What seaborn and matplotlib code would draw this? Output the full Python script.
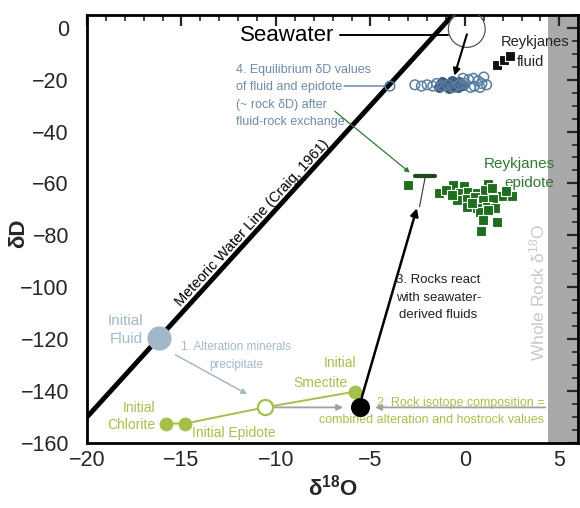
import matplotlib
matplotlib.use("Agg")
import matplotlib.pyplot as plt
from matplotlib.ticker import MultipleLocator
import numpy as np
import pandas as pd
import seaborn as sns

# ---------------- data ----------------
mwl_slope, mwl_intercept = 8, 10          # Craig (1961): dD = 8*d18O + 10
mwl_x_range = [-20.0, -0.625]

seawater_d18o = [0.1]
seawater_dD = [-0.5]

fluid_d18o = [-3.97, -2.65, -2.3, -2.0, -1.7, -1.5, -1.2, -0.9, -0.6, -0.3, 0.0,
              0.2, 0.45, 0.7, 0.9, 1.15, 0.5, 0.3, 0.8, -0.1, 1.0]
fluid_dD = [-22.5, -22.0, -22.5, -22.0, -22.5, -21.5, -22.5, -22.0, -23.0, -22.0, -21.5,
            -20.0, -19.5, -20.5, -21.5, -22.0, -22.5, -23.0, -23.0, -19.5, -19.0]
fluid_dense_d18o = [-1.35, -1.1, -0.85, -0.6, -0.35, -0.1, -1.2, -0.7, -0.3]
fluid_dense_dD = [-22.8, -22.0, -23.2, -21.8, -23.0, -22.2, -20.8, -20.5, -20.8]

rfluid_d18o = [1.7, 2.05, 2.4]
rfluid_dD = [-14.5, -12.6, -10.8]

epi_d18o = [-3.0, -0.65, -0.05, 1.20, -1.36, -1.00, -0.26, 0.18, 0.62, 1.06, 1.41,
            1.94, 2.47, -0.44, 0.09, 0.53, 0.97, 1.50, 0.09, 0.62, 1.15, 1.59,
            0.79, 1.23, 0.94, 1.68, 0.83, 2.2, -0.7, 0.35]
epi_dD = [-60.6, -60.6, -61.0, -60.2, -63.5, -62.5, -63.6, -63.2, -63.8, -62.5, -61.9,
          -64.9, -64.9, -66.4, -66.1, -65.4, -66.4, -66.1, -69.0, -69.6, -69.0, -69.6,
          -70.9, -70.3, -74.1, -74.8, -78.3, -63.0, -64.5, -67.5]

initial_fluid_d18o = [-16.2]
initial_fluid_dD = [-119.6]

alt_path_d18o = [-15.8, -14.8, -10.6, -5.8]     # chlorite, epidote, mix, smectite
alt_path_dD = [-152.5, -152.5, -146.3, -140.2]
mix_d18o = [-10.6]
mix_dD = [-146.3]
rock_d18o = [-5.55]
rock_dD = [-146.3]

eq_bar_d18o = [-2.65, -1.6]
eq_bar_dD = [-57.0, -57.0]

whole_rock_band = (4.4, 6.0)

# ---------------- style ----------------
sns.set_style("white")
plt.rcParams["font.family"] = ["Liberation Sans", "DejaVu Sans"]
plt.rcParams["mathtext.fontset"] = "custom"
plt.rcParams["mathtext.rm"] = "Liberation Sans"
plt.rcParams["mathtext.it"] = "Liberation Sans:italic"
plt.rcParams["mathtext.bf"] = "Liberation Sans:bold"

GREEN = "#a3c14a"
LBLUE = "#a3b8c8"
BLUE = "#6d8ba6"
DKGREEN = "#2f7a2f"
GRAY = "#a0a0a0"

fig = plt.figure(figsize=(5.8, 5.08), dpi=100)
ax = fig.add_axes([0.15, 0.128, 0.847, 0.843])

ax.axvspan(*whole_rock_band, color="#a9a9a9", zorder=0, lw=0)

# Meteoric water line
mx = np.array(mwl_x_range)
sns.lineplot(x=mx, y=mwl_slope * mx + mwl_intercept, ax=ax, color="black", lw=3.5, zorder=3)

# seawater
ax.scatter(seawater_d18o, seawater_dD, s=700, facecolor="none", edgecolor="#555555",
           lw=0.9, zorder=4)

# fluid circles
sns.scatterplot(x=fluid_dense_d18o, y=fluid_dense_dD, ax=ax, s=48, color="#3e5f82",
                edgecolor="#3e5f82", linewidth=1, zorder=4)
sns.scatterplot(x=fluid_d18o, y=fluid_dD, ax=ax, s=48, facecolor="none",
                edgecolor="#5a7ea2", linewidth=1.1, zorder=5)

# Reykjanes fluid
sns.scatterplot(x=rfluid_d18o, y=rfluid_dD, ax=ax, marker="s", s=42, color="#111111",
                edgecolor="white", linewidth=0.8, zorder=5)

# Reykjanes epidote
sns.scatterplot(x=epi_d18o, y=epi_dD, ax=ax, marker="s", s=50, color="#1f6e1f",
                edgecolor="white", linewidth=0.8, zorder=5)

# equilibrium bar
sns.lineplot(x=eq_bar_d18o, y=eq_bar_dD, ax=ax, color="#1a4a1a", lw=3, zorder=5)

# alteration path
sns.lineplot(x=alt_path_d18o, y=alt_path_dD, ax=ax, color=GREEN, lw=1.4, zorder=3, sort=False)
sns.scatterplot(x=alt_path_d18o[:2] + alt_path_d18o[3:], y=alt_path_dD[:2] + alt_path_dD[3:],
                ax=ax, s=85, color=GREEN, edgecolor=GREEN, zorder=6)
sns.scatterplot(x=mix_d18o, y=mix_dD, ax=ax, s=120, facecolor="white", edgecolor=GREEN,
                linewidth=1.6, zorder=6)
sns.scatterplot(x=initial_fluid_d18o, y=initial_fluid_dD, ax=ax, s=260, color="#a2b7c8",
                edgecolor="#a2b7c8", zorder=6)
sns.scatterplot(x=rock_d18o, y=rock_dD, ax=ax, s=160, color="black", edgecolor="black", zorder=7)

# ---------------- annotations ----------------
ax.text(-6.9, -3, "Seawater", fontsize=16, ha="right", va="center", color="black")
ax.plot([-6.6, -0.9], [-3, -3], color="black", lw=1.4, zorder=4)
ax.annotate("", xy=(-0.6, -19.5), xytext=(0.15, -1.5),
            arrowprops=dict(arrowstyle="-|>", color="black", lw=1.5, mutation_scale=10), zorder=6)

ax.text(1.9, -5.5, "Reykjanes", fontsize=10.5, ha="left", va="center", color="#222222")
ax.text(2.75, -13.2, "fluid", fontsize=10.5, ha="left", va="center", color="#222222")

ax.text(-12.1, -14.0, "4. Equilibrium δD values\nof fluid and epidote\n(~ rock δD) after\nfluid-rock exchange",
        fontsize=9, ha="left", va="top", color=BLUE, linespacing=1.6)
ax.plot([-6.4, -4.25], [-22.5, -22.5], color=BLUE, lw=1.1, zorder=4)
ax.annotate("", xy=(-2.8, -56.5), xytext=(-7.0, -31.5),
            arrowprops=dict(arrowstyle="-|>", color=DKGREEN, lw=0.9, mutation_scale=7), zorder=6)

ax.text(4.75, -56, "Reykjanes\nepidote", fontsize=11, ha="right", va="center",
        color=DKGREEN, multialignment="right", linespacing=1.45)

ax.text(-1.4, -104, "3. Rocks react\nwith seawater-\nderived fluids", fontsize=9.5,
        ha="center", va="center", color="#222222", linespacing=1.65)
ax.annotate("", xy=(-2.5, -68.5), xytext=(-5.5, -143.5),
            arrowprops=dict(arrowstyle="-|>", color="black", lw=1.8, mutation_scale=11), zorder=6)
ax.plot([-2.4, -2.1], [-69, -57.5], color="#333333", lw=0.8, zorder=5)

ax.text(-11.27, -75.3, "Meteoric Water Line (Craig, 1961)", fontsize=10.5, rotation=47.5,
        rotation_mode="anchor", ha="center", va="center", color="black")

ax.text(3.86, -102, "Whole Rock δ$^{18}$O", fontsize=12.5, rotation=90, ha="center",
        va="center", color="#c8c8c8")

ax.text(-17.0, -116.5, "Initial\nFluid", fontsize=11, ha="right", va="center",
        color=LBLUE, multialignment="center", linespacing=1.4)
ax.text(-12.1, -126.5, "1. Alteration minerals\nprecipitate", fontsize=8.5, ha="center",
        va="center", color=LBLUE, linespacing=1.6)
ax.annotate("", xy=(-11.4, -141.7), xytext=(-15.45, -125.5),
            arrowprops=dict(arrowstyle="-|>", color=LBLUE, lw=1.1, mutation_scale=8), zorder=5)

ax.text(-16.4, -149.8, "Initial\nChlorite", fontsize=10, ha="right", va="center",
        color=GREEN, multialignment="right", linespacing=1.25)
ax.text(-14.45, -156, "Initial Epidote", fontsize=10, ha="left", va="center", color=GREEN)
ax.text(-6.6, -129.3, "Initial", fontsize=10, ha="center", va="center", color=GREEN)
ax.text(-7.65, -137, "Smectite", fontsize=10, ha="center", va="center", color=GREEN)

ax.annotate("", xy=(-6.3, -146.3), xytext=(-10.2, -146.3),
            arrowprops=dict(arrowstyle="-|>", color=GRAY, lw=1.3, mutation_scale=9), zorder=5)
ax.annotate("", xy=(-4.9, -146.3), xytext=(4.4, -146.3),
            arrowprops=dict(arrowstyle="-|>", color=GRAY, lw=1.3, mutation_scale=9), zorder=4)
ax.text(4.2, -148, "2. Rock isotope composition =\ncombined alteration and hostrock values",
        fontsize=9, ha="right", va="center", color=GREEN, multialignment="right", linespacing=1.55)

# ---------------- axes ----------------
ax.set_xlim(-20, 6)
ax.set_ylim(-160, 5)
ax.xaxis.set_major_locator(MultipleLocator(5))
ax.xaxis.set_minor_locator(MultipleLocator(1))
ax.yaxis.set_major_locator(MultipleLocator(20))
ax.yaxis.set_minor_locator(MultipleLocator(5))
ax.tick_params(which="both", direction="in", top=True, right=True, labelsize=15.5)
ax.tick_params(which="major", length=8, width=1.6)
ax.tick_params(which="minor", length=4.5, width=1.2)
ax.tick_params(axis="x", pad=5)
ax.tick_params(axis="y", pad=13)
for sp in ax.spines.values():
    sp.set_linewidth(2)
    sp.set_color("black")

ax.set_xlabel("δ$^{\\mathbf{18}}$O", fontsize=16, fontweight="bold", labelpad=3)
ax.set_ylabel("δD", fontsize=16, fontweight="bold")
ax.yaxis.set_label_coords(-0.118, 0.49)

fig.savefig("out.png", dpi=100)
